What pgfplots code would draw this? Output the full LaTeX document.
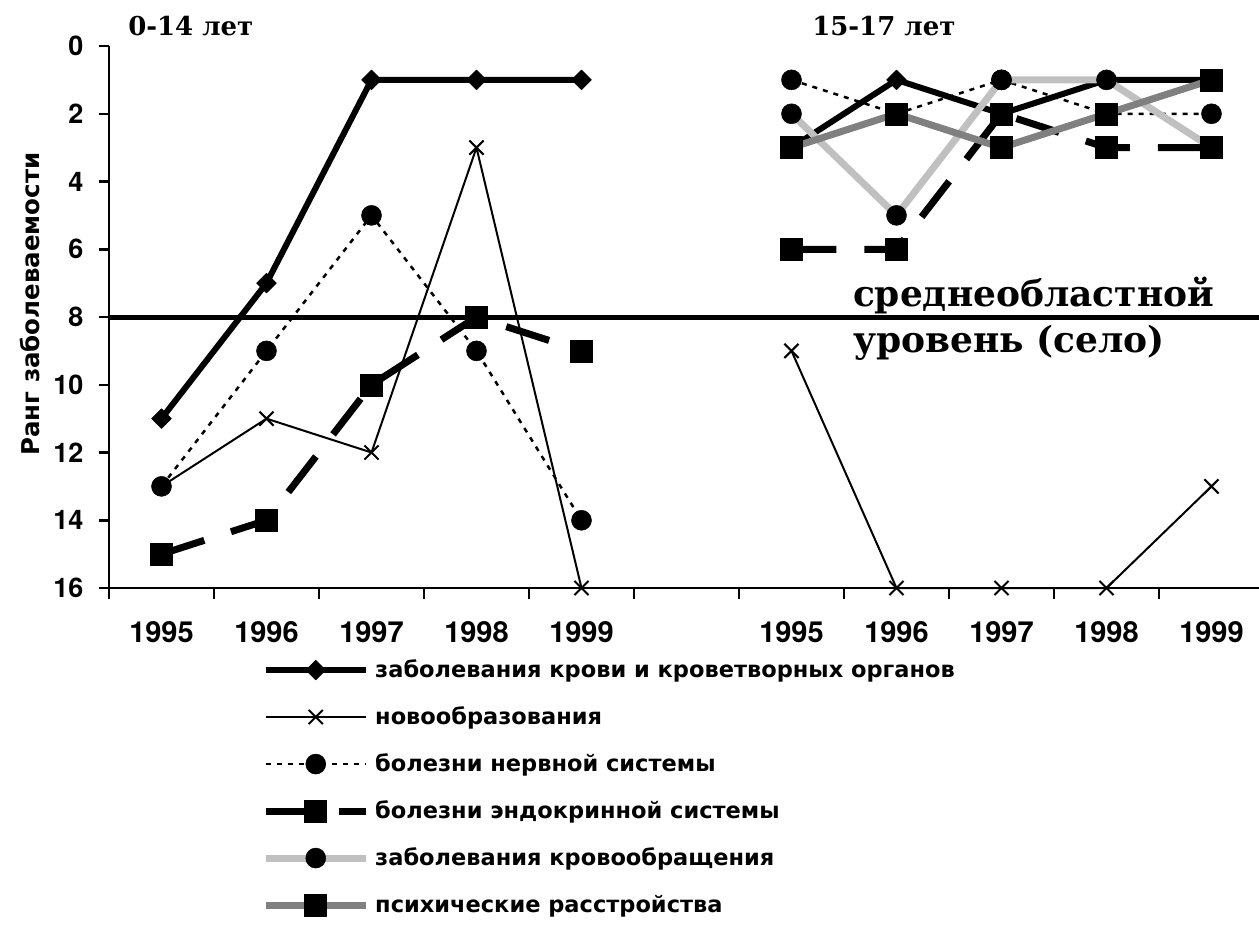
\documentclass[border=0pt]{standalone}
\usepackage{fontspec}
\setmainfont{Liberation Serif}
\newfontfamily\timesbf{DejaVu Serif}
\newfontfamily\sansbf{DejaVu Sans}
\newfontfamily\digitbf{texgyreheros-bold.otf}
\usepackage{pgfplots}
\pgfplotsset{compat=1.18}
\definecolor{lgray}{RGB}{192,192,192}
\definecolor{mgray}{RGB}{128,128,128}
\begin{document}
\begin{tikzpicture}[x=1pt,y=1pt]
\useasboundingbox (0,0) rectangle (1259,-927);
\begin{axis}[
  at={(109pt,-588pt)}, anchor=south west,
  scale only axis, width=1155pt, height=542pt,
  xmin=-0.5, xmax=10.5, ymin=0, ymax=16, y dir=reverse,
  clip=false,
  unbounded coords=jump,
  axis line style={draw=none},
  xtick={0,1,2,3,4,6,7,8,9,10},
  xticklabels={1995,1996,1997,1998,1999,1995,1996,1997,1998,1999},
  minor xtick={-0.5,0.5,1.5,2.5,3.5,4.5,5.5,6.5,7.5,8.5,9.5},
  ytick={0,2,...,16},
  tick align=outside,
  xtick pos=left, ytick pos=left,
  major tick length=10pt, minor tick length=11pt,
  tick style={black, line width=2.5pt},
  every major x tick/.append style={draw=none},
  /pgf/number format/assume math mode=true,
  xticklabel style={font=\digitbf\fontsize{29}{29}\selectfont, yshift=-20pt},
  yticklabel style={font=\digitbf\fontsize{27}{27}\selectfont, xshift=-12pt},
  legend style={at={(axis description cs:0.1325,-0.127)}, anchor=north west,
    draw=none, fill=none, inner sep=0pt, row sep=21pt, column sep=6pt,
    font=\sansbf\bfseries\fontsize{22.5}{22.5}\selectfont,
    nodes={inner sep=0pt, text height=20pt, text depth=6pt}},
  legend cell align=left,
  legend image code/.code={\draw[mark repeat=2,mark phase=2,#1] plot coordinates {(0pt,0pt) (50pt,0pt) (100pt,0pt)};},
]
\addplot[black, line width=5pt, forget plot] coordinates {(-0.5,8) (10.6,8)};
% blood
\addplot[black, line width=6pt, line join=round, mark=square*, mark size=7pt,
  mark options={solid, rotate=45, line width=0.5pt, fill=black}]
  coordinates {(0,11) (1,7) (2,1) (3,1) (4,1) (5,nan) (6,3) (7,1) (8,2) (9,1) (10,1)};
\addlegendentry{заболевания крови и кроветворных органов}
% neoplasms
\addplot[black, line width=2pt, line join=round, mark=x, mark size=10pt,
  mark options={solid, line width=2pt}]
  coordinates {(0,13) (1,11) (2,12) (3,3) (4,16) (5,nan) (6,9) (7,16) (8,16) (9,16) (10,13)};
\addlegendentry{новообразования}
% nervous
\addplot[black, line width=2.5pt, dash pattern=on 5pt off 6pt, mark=*, mark size=10pt,
  mark options={solid, line width=0.5pt, fill=black}]
  coordinates {(0,13) (1,9) (2,5) (3,9) (4,14) (5,nan) (6,1) (7,2) (8,1) (9,2) (10,2)};
\addlegendentry{болезни нервной системы}
% endocrine
\addplot[black, line width=7pt, dash pattern=on 45pt off 28pt, mark=square*, mark size=11pt,
  mark options={solid, line width=0.5pt, fill=black}]
  coordinates {(0,15) (1,14) (2,10) (3,8) (4,9) (5,nan) (6,6) (7,6) (8,2) (9,3) (10,3)};
\addlegendentry{болезни эндокринной системы}
% circulation
\addplot[lgray, line width=7pt, line join=round, mark=*, mark size=10pt,
  mark options={solid, line width=0.5pt, draw=black, fill=black}]
  coordinates {(6,2) (7,5) (8,1) (9,1) (10,3)};
\addlegendentry{заболевания кровообращения}
% psych
\addplot[mgray, line width=7pt, line join=round, mark=square*, mark size=11pt,
  mark options={solid, line width=0.5pt, draw=black, fill=black}]
  coordinates {(6,3) (7,2) (8,3) (9,2) (10,1)};
\addlegendentry{психические расстройства}
\draw[line width=2.5pt] (axis description cs:0,1) -- (axis description cs:0,0) -- (axis description cs:1.01,0);
\node[anchor=base west, font=\timesbf\bfseries\fontsize{26}{26}\selectfont, inner sep=0pt] at (axis description cs:0.0165,1.0185) {0-14 лет};
\node[anchor=base west, font=\timesbf\bfseries\fontsize{26}{26}\selectfont, inner sep=0pt] at (axis description cs:0.6087,1.0185) {15-17 лет};
\node[anchor=base west, font=\timesbf\bfseries\fontsize{36}{36}\selectfont, inner sep=0pt] at (axis description cs:0.644,0.5185) {среднеобластной};
\node[anchor=base west, font=\timesbf\bfseries\fontsize{36}{36}\selectfont, inner sep=0pt] at (axis description cs:0.644,0.4354) {уровень (село)};
\node[rotate=90, font=\sansbf\bfseries\fontsize{24.5}{24.5}\selectfont] at (axis description cs:-0.0684,0.524) {Ранг заболеваемости};
\end{axis}
\end{tikzpicture}
\end{document}
